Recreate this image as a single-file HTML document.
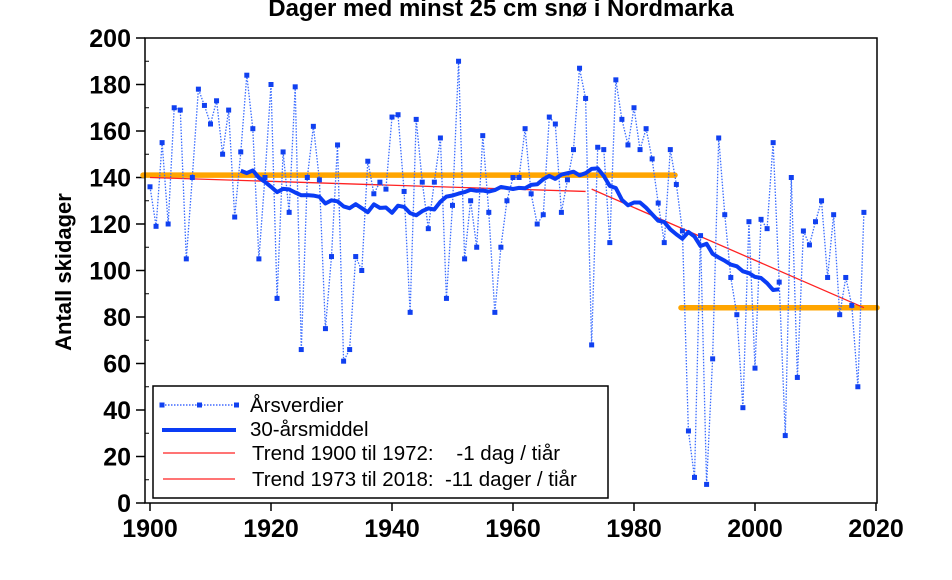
<!DOCTYPE html>
<html><head><meta charset="utf-8"><style>
html,body{margin:0;padding:0;background:#fff;}
svg{display:block;font-family:"Liberation Sans",Arial,sans-serif;}
</style></head><body>
<svg id="s" width="952" height="580" viewBox="0 0 952 580" xmlns="http://www.w3.org/2000/svg">
<rect width="952" height="580" fill="#fff"/>
<text x="501" y="16" font-size="24" font-weight="bold" text-anchor="middle" fill="#000">Dager med minst 25 cm snø i Nordmarka</text>
<text transform="translate(71,272) rotate(-90)" font-size="22" font-weight="bold" text-anchor="middle" fill="#000">Antall skidager</text>
<g id="ax"></g>
<g id="data"></g>
<rect x="145" y="38" width="732" height="465" fill="none" stroke="#000" stroke-width="1.5"/>
<g>
<rect x="153" y="386" width="455" height="112" fill="#fff" stroke="#000" stroke-width="1.5"/>
<line x1="162" y1="405" x2="236" y2="405" stroke="#1a4cff" stroke-width="1.3" stroke-dasharray="1.5,1.5"/>
<rect x="159.5" y="402.5" width="5" height="5" fill="#1040f0"/><rect x="197" y="402.5" width="5" height="5" fill="#1040f0"/><rect x="234" y="402.5" width="5" height="5" fill="#1040f0"/>
<line x1="162" y1="430" x2="236" y2="430" stroke="#0a3cf5" stroke-width="4"/>
<line x1="163" y1="453" x2="235" y2="453" stroke="#f22" stroke-width="1.2"/>
<line x1="163" y1="479" x2="235" y2="479" stroke="#f22" stroke-width="1.2"/>
<text x="250" y="412" font-size="20.5">Årsverdier</text>
<text x="250" y="436" font-size="20.5">30-årsmiddel</text>
<text x="252" y="460" font-size="20.5" xml:space="preserve">Trend 1900 til 1972:    -1 dag / tiår</text>
<text x="252" y="486" font-size="20.5" xml:space="preserve">Trend 1973 til 2018:  -11 dager / tiår</text>
</g>
</svg>
<script>
var ns="http://www.w3.org/2000/svg";
function X(y){return 150+(y-1900)*6.05;}
function Y(v){return 503-v*2.325;}
function el(p,t,a,txt){var e=document.createElementNS(ns,t);for(var k in a)e.setAttribute(k,a[k]);if(txt!==undefined)e.textContent=txt;p.appendChild(e);return e;}
var ax=document.getElementById('ax');
for(var v=0;v<=200;v+=20){var y=Y(v);el(ax,'line',{x1:136,y1:y,x2:145,y2:y,stroke:'#000','stroke-width':1.5});
el(ax,'text',{x:131,y:y+9,'font-size':25,'font-weight':'bold','text-anchor':'end'},String(v));
if(v<200){el(ax,'line',{x1:145,y1:Y(v+10),x2:149,y2:Y(v+10),stroke:'#000','stroke-width':1});}}
for(var yr=1900;yr<=2020;yr+=20){var x=X(yr);el(ax,'line',{x1:x,y1:503,x2:x,y2:511,stroke:'#000','stroke-width':1.5});
el(ax,'text',{x:x,y:537,'font-size':25,'font-weight':'bold','text-anchor':'middle'},String(yr));}
var d=[136,119,155,120,170,169,105,140,178,171,163,173,150,169,123,151,184,161,105,140,180,88,151,125,179,66,140,162,139,75,106,154,61,66,106,100,147,133,138,135,166,167,134,82,165,138,118,138,157,88,128,190,105,130,110,158,125,82,110,130,140,140,161,133,120,124,166,163,125,139,152,187,174,68,153,152,112,182,165,154,170,152,161,148,129,112,152,137,117,31,11,115,8,62,157,124,97,81,41,121,58,122,118,155,95,29,140,54,117,111,121,130,97,124,81,97,85,50,125];
var g=document.getElementById('data');
el(g,'line',{x1:143,y1:Y(141),x2:675,y2:Y(141),stroke:'#ffa500','stroke-width':5.5,'stroke-linecap':'round'});
el(g,'line',{x1:681,y1:Y(84),x2:877,y2:Y(84),stroke:'#ffa500','stroke-width':5.5,'stroke-linecap':'round'});
el(g,'line',{x1:X(1900),y1:Y(140),x2:X(1972),y2:Y(134),stroke:'#f22','stroke-width':1.3});
el(g,'line',{x1:X(1973),y1:Y(135),x2:X(2018),y2:Y(84),stroke:'#f22','stroke-width':1.3});
var pts=d.map(function(v,i){return X(1900+i).toFixed(1)+','+Y(v).toFixed(1);}).join(' ');
el(g,'polyline',{points:pts,fill:'none',stroke:'#3a6cff','stroke-width':1.3,'stroke-dasharray':'1.5,1.5'});
d.forEach(function(v,i){el(g,'rect',{x:X(1900+i)-2.5,y:Y(v)-2.5,width:5,height:5,fill:'#1040f0'});});
var mp=[];for(var i=15;i+14<d.length;i++){var s=0;for(var j=i-15;j<=i+14;j++)s+=d[j];mp.push(X(1900+i).toFixed(1)+','+Y(s/30).toFixed(1));}
el(g,'polyline',{points:mp.join(' '),fill:'none',stroke:'#0a3cf5','stroke-width':4,'stroke-linejoin':'round'});
</script>
</body></html>
